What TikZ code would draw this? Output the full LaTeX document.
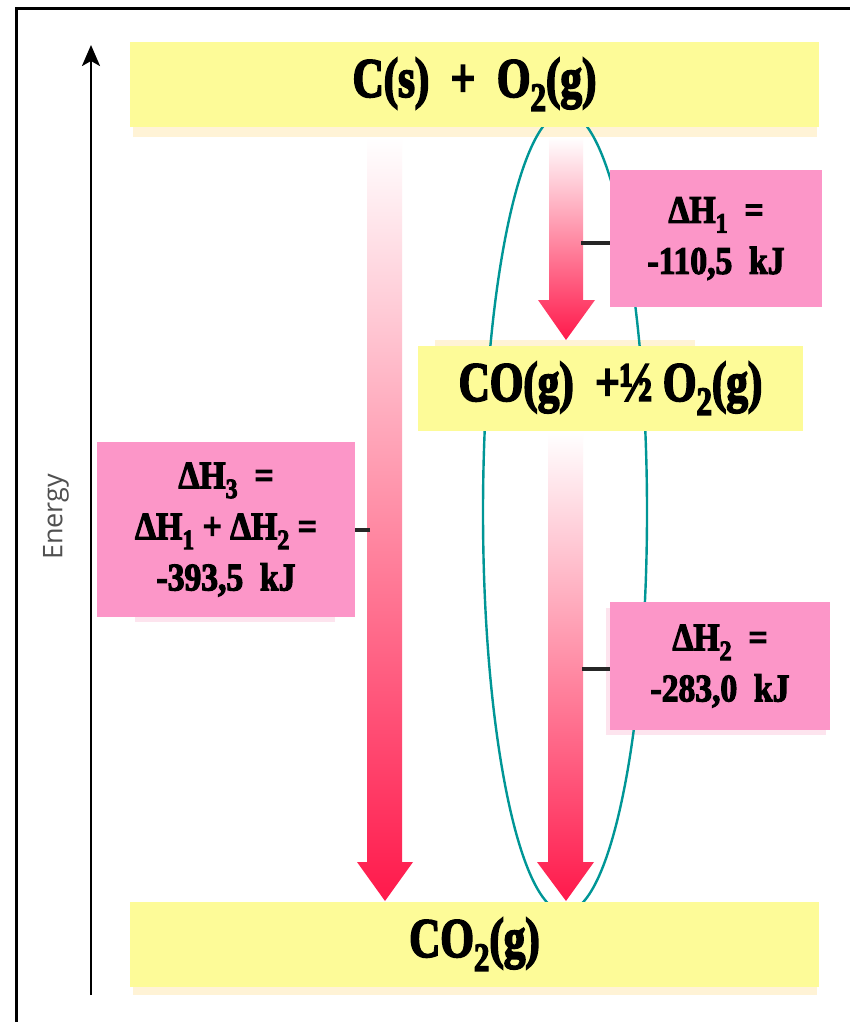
\documentclass[tikz,border=0pt]{standalone}
\usepackage{fontspec}
\usetikzlibrary{arrows.meta,calc}
\setmainfont{Liberation Serif}
\newfontfamily\condfont[FakeStretch=0.77,FakeBold=3]{Liberation Serif Bold}
\newfontfamily\labfont[FakeStretch=0.86,FakeBold=3]{Liberation Serif Bold}
\newfontfamily\energyfont{Open Sans}
\definecolor{boxyellow}{RGB}{253,251,152}
\definecolor{shadowyellow}{RGB}{255,243,214}
\definecolor{boxpink}{RGB}{252,150,200}
\definecolor{shadowpink}{RGB}{253,228,238}
\definecolor{arrowred}{RGB}{255,25,75}
\definecolor{ellteal}{RGB}{0,150,150}
\definecolor{energygray}{RGB}{80,80,80}
\newcommand{\lowsub}[1]{\raisebox{-0.25em}{\scalebox{0.72}{#1}}}
\tikzset{
  ybox/.style={fill=boxyellow, draw=none, inner sep=0pt, align=center,
    font=\condfont\fontsize{56}{64}\selectfont},
  pbox/.style={fill=boxpink, draw=none, inner sep=0pt, align=center,
    font=\labfont\fontsize{39}{51}\selectfont},
  shadowy/.style={fill=shadowyellow, draw=none},
  shadowp/.style={fill=shadowpink, draw=none},
  bigarrow/.style={top color=white, bottom color=arrowred, draw=none},
  tickseg/.style={line width=3.2pt, draw=black!85},
}
\begin{document}
\begin{tikzpicture}[x=1pt,y=-1pt]
\useasboundingbox (0,0) rectangle (850,1022);
\fill[white] (0,0) rectangle (850,1022);

% frame
\draw[line width=3pt, line join=miter] (16.5,1022) -- (16.5,8.7) -- (850,8.7);

% energy axis
\coordinate (axb) at (91,995);
\coordinate (axt) at (91,45);
\draw[line width=2.6pt, -{Stealth[length=21pt,width=18pt,inset=5pt]}] (axb) -- (axt);
\node[rotate=90, text=energygray, font=\energyfont\fontsize{27}{30}\selectfont] (energy) at (56,517) {Energy};

% shadows
\fill[shadowy] (133,52) rectangle (817,137);
\fill[shadowy] (133,912) rectangle (817,995);
\fill[shadowy] (435,340) rectangle (695,425);
\fill[shadowp] (135,448) rectangle (335,622);
\fill[shadowp] (606,608) rectangle (826,735);

% ellipse
\draw[ellteal, line width=2.4pt] (565,512) ellipse [x radius=82pt, y radius=400pt];

% big arrows
\shade[bigarrow] (367,137) -- (402,137) -- (402,862) -- (413,862) -- (385,901) -- (357,862) -- (367,862) -- cycle;
\shade[bigarrow] (549,137) -- (583,137) -- (583,300) -- (595,300) -- (566,340) -- (538,300) -- (549,300) -- cycle;
\shade[bigarrow] (548,432) -- (583,432) -- (583,862) -- (594,862) -- (566,901) -- (537,862) -- (548,862) -- cycle;

% level boxes
\node[ybox, minimum width=689pt, minimum height=85pt] (top) at (474.5,84.5) {C(s)\ \ +\ \ O\lowsub{2}(g)};
\node[ybox, minimum width=385pt, minimum height=85pt] (mid) at (610.5,388.5) {CO(g)\ \ +½\ O\lowsub{2}(g)};
\node[ybox, minimum width=689pt, minimum height=85pt] (bot) at (474.5,944.5) {CO\lowsub{2}(g)};

% enthalpy labels
\node[pbox, minimum width=212pt, minimum height=137pt] (dh1) at (716,238.5) {ΔH\lowsub{1}\ \ =\\-110,5\ \ kJ};
\node[pbox, minimum width=258pt, minimum height=175pt] (dh3) at (226,529.5) {ΔH\lowsub{3}\ \ =\\ΔH\lowsub{1} + ΔH\lowsub{2} =\\-393,5\ \ kJ};
\node[pbox, minimum width=220pt, minimum height=128pt] (dh2) at (720,666) {ΔH\lowsub{2}\ \ =\\-283,0\ \ kJ};

% ticks
\coordinate (t1) at (581,243);
\coordinate (t3) at (370,530);
\coordinate (t2) at (582,669);
\draw[tickseg] (t1) -- (t1 -| dh1.west);
\draw[tickseg] (t3) -- (t3 -| dh3.east);
\draw[tickseg] (t2) -- (t2 -| dh2.west);
\end{tikzpicture}
\end{document}
